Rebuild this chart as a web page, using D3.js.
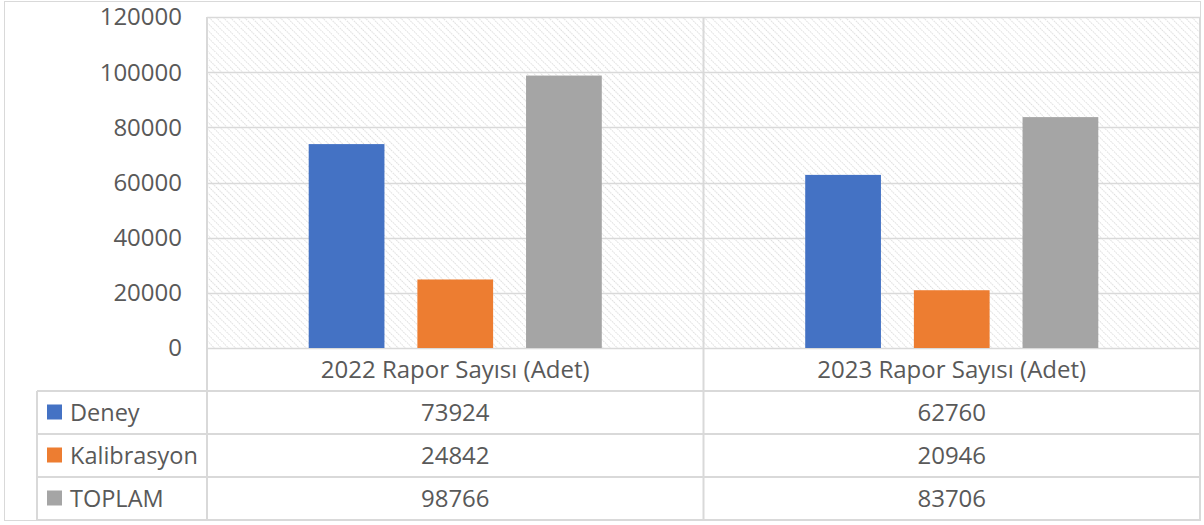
<!DOCTYPE html>
<html>
<head>
<meta charset="utf-8">
<script src="https://cdn.jsdelivr.net/npm/d3@7"></script>
<style>
  body { margin: 0; background: #fff; }
  text { font-family: "Open Sans", "Noto Sans", sans-serif; fill: #595959; }
</style>
</head>
<body>
<div class="chart"></div>
<script>
var categories = ["2022 Rapor Sayısı (Adet)", "2023 Rapor Sayısı (Adet)"];
var seriesNames = ["Deney", "Kalibrasyon", "TOPLAM"];
var seriesColors = ["#4472c4", "#ed7d31", "#a5a5a5"];
var deney = [73924, 62760];
var kalibrasyon = [24842, 20946];
var toplam = [98766, 83706];
var yTicks = [0, 20000, 40000, 60000, 80000, 100000, 120000];

var values = [deney, kalibrasyon, toplam];

var svgWidth = 1204;
var svgHeight = 525;

var plot = { left: 207, right: 1200, top: 17, bottom: 348 };
var rowH = 43;
var tableLeft = 37;

var svg = d3.select(".chart")
  .append("svg")
  .attr("width", svgWidth)
  .attr("height", svgHeight);

// hatch pattern for the plot background
var defs = svg.append("defs");
var pat = defs.append("pattern")
  .attr("id", "hatch")
  .attr("patternUnits", "userSpaceOnUse")
  .attr("width", 5)
  .attr("height", 5)
  .attr("patternTransform", "rotate(-45)");
pat.append("line")
  .attr("x1", 0).attr("y1", 0).attr("x2", 0).attr("y2", 5)
  .attr("stroke", "#d3d3d3")
  .attr("stroke-width", 1.6)
  .attr("stroke-dasharray", "1.5,1");

// outer frame
svg.append("rect")
  .attr("x", 4.5).attr("y", 1.5)
  .attr("width", 1196).attr("height", 519)
  .attr("fill", "none")
  .attr("stroke", "#d9d9d9");

var x0 = d3.scaleBand().domain(categories).range([plot.left, plot.right]);
var x1 = d3.scaleBand().domain(seriesNames).range([0, x0.bandwidth()])
  .paddingInner(0.303).paddingOuter(0.936);
var y = d3.scaleLinear().domain([0, 120000]).range([plot.bottom, plot.top]);

svg.append("rect")
  .attr("x", plot.left).attr("y", plot.top)
  .attr("width", plot.right - plot.left).attr("height", plot.bottom - plot.top)
  .attr("fill", "url(#hatch)");

// gridlines
svg.append("g")
  .selectAll("line")
  .data(yTicks)
  .enter()
  .append("line")
  .attr("x1", plot.left).attr("x2", plot.right)
  .attr("y1", function(d) { return Math.round(y(d)) + 0.5; })
  .attr("y2", function(d) { return Math.round(y(d)) + 0.5; })
  .attr("stroke", "#d9d9d9")
  .attr("stroke-width", 1.5);

// y labels
svg.append("g")
  .selectAll("text")
  .data(yTicks)
  .enter()
  .append("text")
  .attr("x", 182)
  .attr("y", function(d) { return y(d); })
  .attr("dy", "0.35em")
  .attr("text-anchor", "end")
  .style("font-size", "24px")
  .text(function(d) { return d; });

// bars
seriesNames.forEach(function(name, si) {
  svg.append("g")
    .selectAll("rect")
    .data(values[si])
    .enter()
    .append("rect")
    .attr("x", function(d, i) { return x0(categories[i]) + x1(name); })
    .attr("width", x1.bandwidth())
    .attr("y", function(d) { return y(d); })
    .attr("height", function(d) { return y(0) - y(d); })
    .attr("fill", seriesColors[si]);
});

// data table lines
var tableBottom = plot.bottom + rowH * 4;
var grid = svg.append("g").attr("stroke", "#d9d9d9").attr("stroke-width", 2);
[0, 1, 2, 3].forEach(function(r) {
  var yy = plot.bottom + rowH * (r + 1);
  grid.append("line")
    .attr("x1", tableLeft).attr("x2", plot.right)
    .attr("y1", yy).attr("y2", yy);
});
// vertical lines
grid.append("line").attr("x1", plot.left).attr("x2", plot.left)
  .attr("y1", plot.top).attr("y2", tableBottom);
grid.append("line").attr("x1", tableLeft).attr("x2", tableLeft)
  .attr("y1", plot.bottom + rowH).attr("y2", tableBottom);
categories.forEach(function(c) {
  grid.append("line")
    .attr("x1", x0(c) + x0.bandwidth()).attr("x2", x0(c) + x0.bandwidth())
    .attr("y1", plot.top).attr("y2", tableBottom);
});

// category header
svg.append("g")
  .selectAll("text")
  .data(categories)
  .enter()
  .append("text")
  .attr("x", function(d) { return x0(d) + x0.bandwidth() / 2; })
  .attr("y", plot.bottom + rowH / 2)
  .attr("dy", "0.35em")
  .attr("text-anchor", "middle")
  .style("font-size", "24px")
  .text(function(d) { return d; });

// rows: legend key + values
seriesNames.forEach(function(name, si) {
  var cy = plot.bottom + rowH * (si + 1) + rowH / 2;
  svg.append("rect")
    .attr("x", 47).attr("y", cy - 8)
    .attr("width", 15).attr("height", 15)
    .attr("fill", seriesColors[si]);
  svg.append("text")
    .attr("x", 70).attr("y", cy)
    .attr("dy", "0.35em")
    .style("font-size", "23.5px")
    .text(name);
  values[si].forEach(function(v, i) {
    svg.append("text")
      .attr("x", x0(categories[i]) + x0.bandwidth() / 2)
      .attr("y", cy)
      .attr("dy", "0.35em")
      .attr("text-anchor", "middle")
      .style("font-size", "24px")
      .text(v);
  });
});
</script>
</body>
</html>
